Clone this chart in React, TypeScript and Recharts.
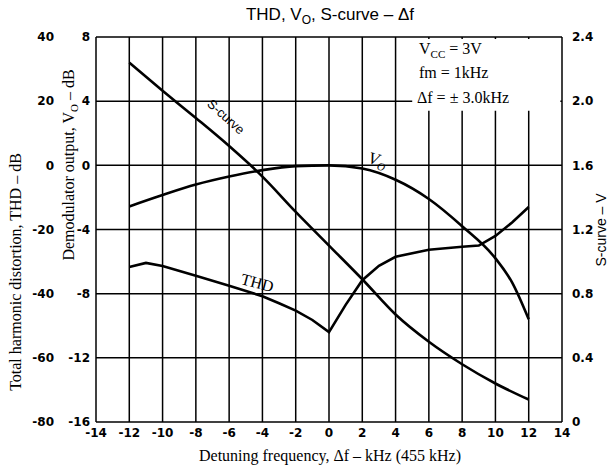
import React from "react";
import {
  ComposedChart,
  Line,
  XAxis,
  YAxis,
  CartesianGrid,
  ReferenceArea,
} from "recharts";

// detuning frequency in kHz
const freqTicks = [-14, -12, -10, -8, -6, -4, -2, 0, 2, 4, 6, 8, 10, 12, 14];
const thdTicks = [-80, -60, -40, -20, 0, 20, 40];
const voTicks = [-16, -12, -8, -4, 0, 4, 8];
const sTicks = [0, 0.4, 0.8, 1.2, 1.6, 2.0, 2.4];

// S-curve (V)
const sFreq = [-12, -10, -8, -6, -4, -2, 0, 2, 4, 6, 8, 10, 12];
const sCurve = [2.24, 2.065, 1.895, 1.72, 1.53, 1.31, 1.1, 0.89, 0.67, 0.5, 0.36, 0.24, 0.14];

// demodulator output Vo (dB)
const voFreq = [-12, -10, -8, -6, -4, -2, 0, 2, 4, 6, 8, 10, 11, 12];
const voOut = [-2.56, -1.85, -1.2, -0.7, -0.3, -0.05, 0, -0.2, -0.9, -2.1, -3.8, -5.8, -7.3, -9.6];

// THD (dB)
const thdFreq = [-12, -11, -10, -8, -6, -4, -3, -2, -1, 0, 1, 2, 3, 4, 6, 8, 9, 10, 11, 12];
const thdVal = [-31.7, -30.4, -31.4, -34.4, -37.5, -40.8, -43, -45.3, -48.2, -52, -43.5, -35.8, -31.3, -28.5, -26.3, -25.4, -25, -22, -17.8, -13];

const sData = sFreq.map((f, i) => ({ f, s: sCurve[i] }));
const voData = voFreq.map((f, i) => ({ f, vo: voOut[i] }));
const thdData = thdFreq.map((f, i) => ({ f, thd: thdVal[i] }));

const tickStyle = {
  fontSize: 12,
  fontWeight: "bold" as const,
  fill: "#000",
  fontFamily: "DejaVu Sans",
};
const serif = "Liberation Serif, Times New Roman, serif";
const sans = "Liberation Sans, Arial, sans-serif";

// outer left axis tick: right-aligned text at the axis' own tick position
function ThdTick(props: any) {
  const { x, y, payload } = props;
  return (
    <text x={x} y={y} dy="0.355em" textAnchor="end" {...tickStyle}>
      {payload.value}
    </text>
  );
}

// axis ids: "left1" sits next to the plot (Vo), "left2" outside it (THD)
export default function App() {
  return (
    <div
      style={{
        position: "absolute",
        left: 0,
        top: 0,
        width: 611,
        height: 471,
        background: "#fff",
      }}
    >
      <ComposedChart
        width={611}
        height={471}
        margin={{ top: 37, right: 0, left: 30, bottom: 29 }}
      >
        <CartesianGrid
          yAxisId="left2"
          stroke="#000"
          strokeWidth={1.5}
          horizontal
          vertical
        />
        <XAxis
          dataKey="f"
          type="number"
          domain={[-14, 14]}
          ticks={freqTicks}
          allowDuplicatedCategory={false}
          axisLine={false}
          tickLine={false}
          tickSize={0}
          tickMargin={6}
          height={20}
          tick={tickStyle}
          interval={0}
        />
        <YAxis
          yAxisId="left1"
          orientation="left"
          domain={[-16, 8]}
          ticks={voTicks}
          width={26}
          axisLine={false}
          tickLine={false}
          tickSize={0}
          tickMargin={6}
          tick={tickStyle}
          interval={0}
        />
        <YAxis
          yAxisId="left2"
          orientation="left"
          domain={[-80, 40]}
          ticks={thdTicks}
          width={40}
          axisLine={false}
          tickLine={false}
          tickSize={0}
          tickMargin={16}
          tick={<ThdTick />}
          interval={0}
        />
        <YAxis
          yAxisId="s"
          orientation="right"
          domain={[0, 2.4]}
          ticks={sTicks}
          width={49}
          axisLine={false}
          tickLine={false}
          tickSize={0}
          tickMargin={10}
          tick={tickStyle}
          interval={0}
          tickFormatter={(v: number) => (v === 0 ? "0" : v.toFixed(1))}
        />
        <ReferenceArea
          yAxisId="left2"
          x1={5}
          x2={13.9}
          y1={17}
          y2={39.4}
          fill="#fff"
          fillOpacity={1}
          stroke="none"
        />
        <Line
          yAxisId="s"
          data={sData}
          dataKey="s"
          type="monotone"
          stroke="#000"
          strokeWidth={2.6}
          dot={false}
          isAnimationActive={false}
        />
        <Line
          yAxisId="left1"
          data={voData}
          dataKey="vo"
          type="monotone"
          stroke="#000"
          strokeWidth={2.6}
          dot={false}
          isAnimationActive={false}
        />
        <Line
          yAxisId="left2"
          data={thdData}
          dataKey="thd"
          type="linear"
          stroke="#000"
          strokeWidth={2.6}
          dot={false}
          isAnimationActive={false}
        />
      </ComposedChart>

      <svg
        width={611}
        height={471}
        style={{ position: "absolute", left: 0, top: 0, pointerEvents: "none" }}
      >
        <text x={330} y={20} textAnchor="middle" fontFamily={sans} fontSize={17} fill="#000">
          THD, V<tspan dy={4} fontSize={12}>O</tspan>
          <tspan dy={-4}>, S-curve – Δf</tspan>
        </text>
        <text x={330} y={461} textAnchor="middle" fontFamily={serif} fontSize={16} fill="#000">
          Detuning frequency, Δf – kHz (455 kHz)
        </text>
        <text
          transform="translate(21,272) rotate(-90)"
          textAnchor="middle"
          fontFamily={serif}
          fontSize={16}
          fill="#000"
        >
          Total harmonic distortion, THD – dB
        </text>
        <text
          transform="translate(74,165) rotate(-90)"
          textAnchor="middle"
          fontFamily={serif}
          fontSize={16}
          fill="#000"
        >
          Demodulator output, V<tspan dy={4} fontSize={11}>O</tspan>
          <tspan dy={-4}> – dB</tspan>
        </text>
        <text
          transform="translate(606,230) rotate(-90)"
          textAnchor="middle"
          fontFamily={sans}
          fontSize={14}
          fill="#000"
        >
          S-curve – V
        </text>
        <g fontFamily={serif} fontSize={16} fill="#000">
          <text x={419} y={54}>
            V<tspan dy={4} fontSize={11}>CC</tspan>
            <tspan dy={-4}> = 3V</tspan>
          </text>
          <text x={419} y={78}>fm = 1kHz</text>
          <text x={417} y={103}>Δf = ± 3.0kHz</text>
        </g>
        <text
          transform="translate(223,120) rotate(42)"
          textAnchor="middle"
          fontFamily={sans}
          fontSize={13}
          fill="#000"
        >
          S-curve
        </text>
        <text
          transform="translate(376,165) rotate(15)"
          textAnchor="middle"
          fontFamily={serif}
          fontStyle="italic"
          fontSize={17}
          fill="#000"
        >
          V<tspan dy={4} fontSize={11}>O</tspan>
        </text>
        <text
          transform="translate(256,288) rotate(15)"
          textAnchor="middle"
          fontFamily={serif}
          fontSize={16}
          fill="#000"
        >
          THD
        </text>
      </svg>
    </div>
  );
}
